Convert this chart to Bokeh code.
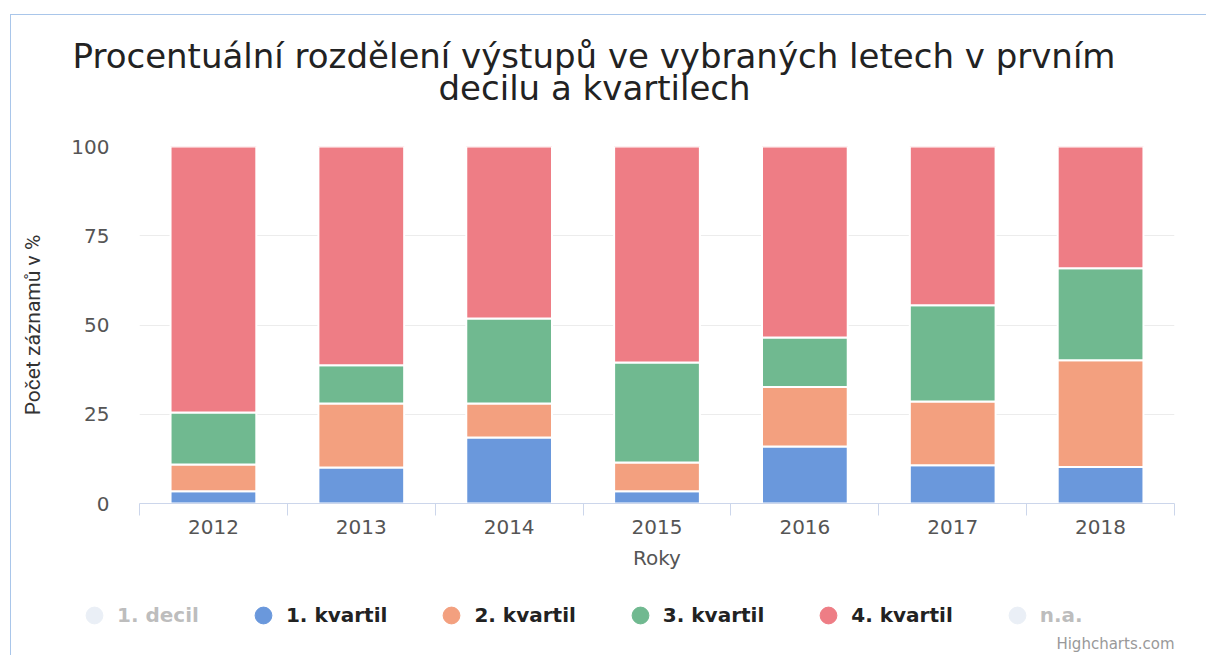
from bokeh.plotting import figure
from bokeh.models import (Range1d, FixedTicker, Legend, LegendItem, Title, Label,
                          ColumnDataSource)
from bokeh.embed import file_html
from bokeh.resources import INLINE

years = [2012, 2013, 2014, 2015, 2016, 2017, 2018]
kvartil1 = [3.4, 10.1, 18.5, 3.4, 16.0, 10.7, 10.2]
kvartil2 = [7.5, 17.9, 9.5, 8.1, 16.6, 17.9, 29.9]
kvartil3 = [14.6, 10.7, 23.8, 28.0, 13.9, 26.9, 25.8]
kvartil4 = [74.5, 61.3, 48.2, 60.5, 53.5, 44.5, 34.1]
series_names = ["1. kvartil", "2. kvartil", "3. kvartil", "4. kvartil"]
colors = ["#6a98dc", "#f3a07f", "#70b990", "#ee7d85"]
hidden_names = ["1. decil", "n.a."]
title_lines = ["Procentuální rozdělení výstupů ve vybraných letech v prvním",
               "decilu a kvartilech"]
y_ticks = [0, 25, 50, 75, 100]

FONT = "DejaVu Sans"
BORDER = "1px solid #a9c6ea"

p = figure(width=1195, height=574, output_backend="svg", toolbar_location=None,
           x_range=Range1d(years[0] - 0.5, years[-1] + 0.5),
           y_range=Range1d(0, 100),
           frame_width=1035, frame_height=357,
           min_border_left=128, min_border_top=131, min_border_right=32,
           min_border_bottom=86, title=None)
p.styles = {"margin-left": "10px", "margin-top": "14px",
            "border-top": BORDER, "border-left": BORDER}
p.outline_line_color = None
p.background_fill_color = "white"
p.border_fill_color = "white"

src = ColumnDataSource(dict(x=years, k1=kvartil1, k2=kvartil2, k3=kvartil3, k4=kvartil4))
bars = p.vbar_stack(["k1", "k2", "k3", "k4"], x="x", width=0.58, source=src,
                    color=colors, line_color="white", line_width=2)

# axes
p.xaxis.ticker = FixedTicker(ticks=years,
                             minor_ticks=[y - 0.5 for y in years] + [years[-1] + 0.5])
p.xaxis.major_tick_line_color = None
p.xaxis.major_tick_out = 12
p.xaxis.minor_tick_line_color = "#ccd6eb"
p.xaxis.minor_tick_out = 12
p.xaxis.minor_tick_in = 0
p.xaxis.axis_line_color = "#ccd6eb"
p.xaxis.major_label_text_font = FONT
p.xaxis.major_label_text_font_size = "20px"
p.xaxis.major_label_text_color = "#555555"
p.xaxis.major_label_standoff = 4
p.xaxis.axis_label = "Roky"
p.xaxis.axis_label_text_font = FONT
p.xaxis.axis_label_text_font_size = "20px"
p.xaxis.axis_label_text_font_style = "normal"
p.xaxis.axis_label_text_color = "#555555"
p.xaxis.axis_label_standoff = 9
p.xgrid.grid_line_color = None

p.yaxis.ticker = FixedTicker(ticks=y_ticks)
p.yaxis.axis_line_color = None
p.yaxis.major_tick_line_color = None
p.yaxis.major_tick_out = 0
p.yaxis.minor_tick_line_color = None
p.yaxis.major_label_text_font = FONT
p.yaxis.major_label_text_font_size = "20px"
p.yaxis.major_label_text_color = "#555555"
p.yaxis.major_label_standoff = 30
p.yaxis.axis_label = "Počet záznamů v %"
p.yaxis.axis_label_text_font = "Roboto"
p.yaxis.axis_label_text_font_size = "21px"
p.yaxis.axis_label_text_font_style = "normal"
p.yaxis.axis_label_text_color = "#333333"
p.yaxis.axis_label_standoff = 23
p.ygrid.grid_line_color = "#ececec"

# title lines (first added is closest to the plot); a thin spacer first
p.add_layout(Title(text=" ", text_font_size="1px", standoff=36), "above")
p.add_layout(Title(text=title_lines[1], align="left", offset=299,
                   text_font=FONT, text_font_size="34px",
                   text_font_style="normal", text_color="#222222",
                   standoff=0), "above")
p.add_layout(Title(text=title_lines[0], align="left", offset=-67,
                   text_font=FONT, text_font_size="34px",
                   text_font_style="normal", text_color="#222222",
                   standoff=-20), "above")

# second strip: legend and credits
p2 = figure(width=1195, height=66, output_backend="svg", toolbar_location=None,
            x_range=Range1d(0, 1), y_range=Range1d(0, 1),
            x_axis_location=None, y_axis_location=None,
            min_border=0, min_border_left=0, min_border_right=0,
            min_border_top=0, min_border_bottom=0, title=None)
p2.styles = {"margin-left": "10px", "border-left": BORDER}
p2.outline_line_color = None
p2.xgrid.grid_line_color = None
p2.ygrid.grid_line_color = None
p2.border_fill_color = "white"
p2.background_fill_color = "white"

nan = float("nan")
legend_items = []
dummy = p2.scatter(x=[nan], y=[nan], marker="circle", size=17, color="#b9c9e0")
dummy.visible = False
legend_items.append(LegendItem(label=hidden_names[0], renderers=[dummy]))
for name, c in zip(series_names, colors):
    r = p2.scatter(x=[nan], y=[nan], marker="circle", size=17, fill_color=c, line_color=c)
    legend_items.append(LegendItem(label=name, renderers=[r]))
dummy2 = p2.scatter(x=[nan], y=[nan], marker="circle", size=17, color="#b9c9e0")
dummy2.visible = False
legend_items.append(LegendItem(label=hidden_names[1], renderers=[dummy2]))

legend = Legend(items=legend_items, orientation="horizontal",
                location=(62, 19), padding=0, margin=0, spacing=43,
                glyph_width=42, glyph_height=42, label_standoff=2,
                label_text_font=FONT, label_text_font_size="20px",
                label_text_font_style="bold", label_text_color="#222222",
                border_line_color=None, background_fill_alpha=0,
                inactive_fill_color="white", inactive_fill_alpha=0.7,
                click_policy="hide")
p2.add_layout(legend, "center")

p2.add_layout(Label(x=1163, y=12, x_units="screen", y_units="screen",
                    text="Highcharts.com", text_align="right",
                    text_baseline="middle", text_font=FONT,
                    text_font_size="15px", text_color="#999999"))

open("out.html", "w").write(file_html([p, p2], INLINE))
